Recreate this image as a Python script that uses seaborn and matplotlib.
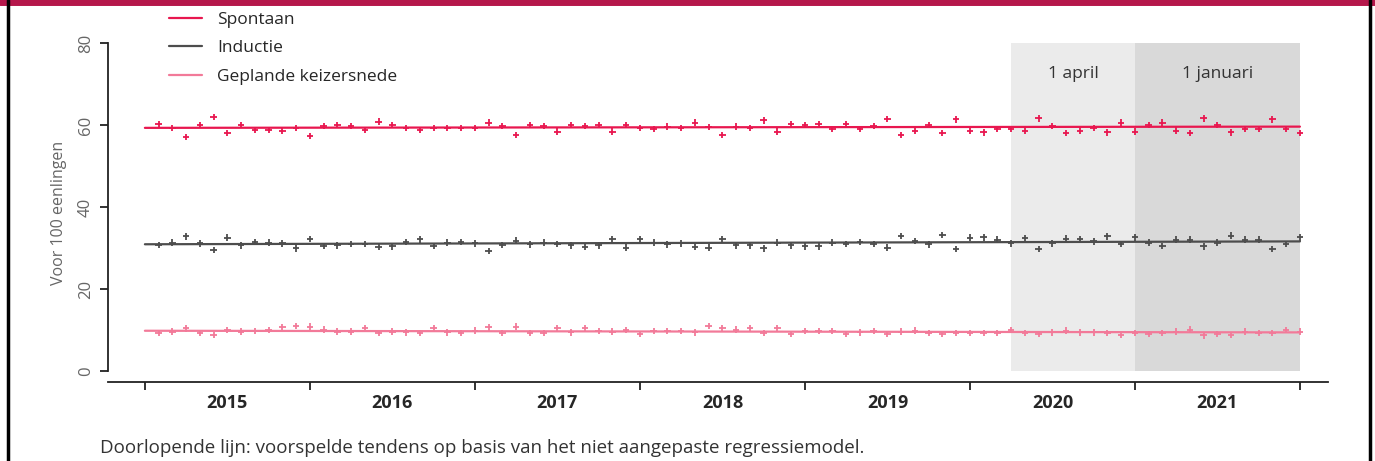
import numpy as np
import pandas as pd
import matplotlib.pyplot as plt
import seaborn as sns

# ===============================================
# DATA (maandelijks, jan 2015 - dec 2021)
# ===============================================

series_names = ["Spontaan", "Inductie", "Geplande keizersnede"]
years = [2015, 2016, 2017, 2018, 2019, 2020, 2021]

spontaan = [
    60.2, 59.3, 57.1, 60.0, 62.0, 58.0, 60.0, 58.8, 58.8, 58.5, 59.3, 57.3,
    59.8, 60.0, 59.8, 58.8, 60.8, 60.0, 59.3, 58.8, 59.3, 59.3, 59.3, 59.3,
    60.6, 59.8, 57.6, 60.0, 59.8, 58.4, 60.0, 59.8, 60.0, 58.4, 60.0, 59.3,
    59.0, 59.6, 59.3, 60.6, 59.5, 57.6, 59.6, 59.3, 61.1, 58.4, 60.3, 60.0,
    60.2, 59.0, 60.3, 59.0, 59.8, 61.5, 57.6, 58.6, 60.0, 58.0, 61.4, 58.5,
    58.2, 59.0, 59.0, 58.6, 61.6, 59.8, 58.0, 58.6, 59.3, 58.2, 60.6, 58.4,
    60.0, 60.6, 58.6, 58.0, 61.6, 60.0, 58.2, 59.0, 59.0, 61.4, 59.0, 58.0,
]
inductie = [
    30.7, 31.3, 32.8, 31.1, 29.5, 32.5, 30.6, 31.5, 31.3, 31.1, 29.9, 32.2,
    30.5, 30.6, 31.0, 31.0, 30.2, 30.4, 31.5, 32.1, 30.5, 31.3, 31.5, 31.1,
    29.3, 30.7, 31.8, 30.9, 31.3, 31.0, 30.6, 30.2, 30.6, 32.1, 30.1, 32.1,
    31.3, 30.9, 31.1, 30.2, 30.1, 32.1, 30.6, 30.6, 29.9, 31.3, 30.6, 30.4,
    30.4, 31.3, 31.0, 31.5, 31.0, 30.1, 32.9, 31.7, 30.9, 33.2, 29.7, 32.5,
    32.6, 32.0, 31.1, 32.4, 29.8, 31.1, 32.3, 32.2, 31.6, 32.8, 31.0, 32.6,
    31.3, 30.5, 32.0, 32.0, 30.4, 31.3, 33.0, 32.0, 32.0, 29.7, 31.0, 32.6,
]
geplande = [
    9.2, 9.6, 10.4, 9.2, 8.8, 10.0, 9.6, 9.7, 10.0, 10.7, 11.0, 10.8,
    10.1, 9.6, 9.6, 10.4, 9.2, 9.6, 9.4, 9.2, 10.4, 9.4, 9.2, 9.8,
    10.6, 9.3, 10.8, 9.3, 9.2, 10.4, 9.4, 10.4, 9.7, 9.6, 10.0, 9.0,
    9.7, 9.7, 9.7, 9.4, 11.0, 10.4, 10.1, 10.4, 9.2, 10.4, 9.0, 9.7,
    9.7, 9.7, 9.0, 9.4, 9.7, 9.0, 9.6, 9.8, 9.3, 9.0, 9.2, 9.2,
    9.3, 9.3, 10.0, 9.2, 9.0, 9.4, 9.8, 9.4, 9.4, 9.2, 8.8, 9.2,
    9.0, 9.3, 9.6, 10.1, 8.7, 9.0, 8.8, 9.6, 9.3, 9.3, 10.0, 9.6,
]

# voorspelde tendens: begin- en eindwaarde (2015.0 -> 2022.0)
trend_x = [2015.0, 2022.0]
trend_spontaan = [59.3, 59.6]
trend_inductie = [30.9, 31.6]
trend_geplande = [9.8, 9.4]

period_labels = ["1 april", "1 januari"]
period_start = [2020.25, 2021.0]
period_end = [2021.0, 2022.0]

colors = {"Spontaan": "#E8174F", "Inductie": "#4D4D4D", "Geplande keizersnede": "#F27A99"}
shade_colors = ["#EBEBEB", "#D9D9D9"]

# ===============================================
# DATAFRAMES
# ===============================================

x_months = [2015 + (i + 1) / 12 for i in range(len(spontaan))]
df = pd.DataFrame({
    "x": x_months * 3,
    "waarde": spontaan + inductie + geplande,
    "reeks": np.repeat(series_names, len(x_months)),
})
df_trend = pd.DataFrame({
    "x": trend_x * 3,
    "waarde": trend_spontaan + trend_inductie + trend_geplande,
    "reeks": np.repeat(series_names, 2),
})

# ===============================================
# FIGUUR
# ===============================================

sns.set_style("white")
plt.rcParams["font.family"] = ["Open Sans", "DejaVu Sans"]

fig = plt.figure(figsize=(13.75, 4.61), dpi=100)
ax = fig.add_axes([0.0785, 0.1714, 0.8873, 0.7353])

for s, e, c in zip(period_start, period_end, shade_colors):
    ax.fill_between([s, e], 0, 80, color=c, linewidth=0, zorder=0)
for s, e, lab in zip(period_start, period_end, period_labels):
    ax.text((s + e) / 2, 72.5, lab, ha="center", va="center", fontsize=12.5, color="#333333")

sns.lineplot(data=df_trend, x="x", y="waarde", hue="reeks", palette=colors,
             linewidth=1.6, ax=ax, legend=True, zorder=2)
sns.scatterplot(data=df, x="x", y="waarde", hue="reeks", palette=colors,
                marker="+", s=22, linewidth=1.3, ax=ax, legend=False, zorder=3)

ax.set_xlim(2014.776, 2022.17)
ax.set_ylim(-2.7, 80)

# assen in R-stijl
sns.despine(ax=ax)
ax.spines["left"].set_bounds(0, 80)
for side in ["left", "bottom"]:
    ax.spines[side].set_linewidth(1.3)
    ax.spines[side].set_color("#222222")

ax.set_yticks([0, 20, 40, 60, 80])
ax.set_yticklabels(["0", "20", "40", "60", "80"], rotation=90, va="center",
                   fontsize=12, color="#666666")
ax.set_xticks(list(range(2015, 2023)))
ax.set_xticklabels([])
ax.set_xticks([y + 0.5 for y in years], minor=True)
ax.set_xticklabels([str(y) for y in years], minor=True, fontweight="bold", fontsize=13)
ax.tick_params(axis="x", which="minor", bottom=True, length=0, pad=9)
ax.tick_params(axis="both", which="major", bottom=True, left=True, length=6, width=1.3,
               color="#222222", direction="out")
ax.tick_params(axis="y", pad=4)

ax.set_xlabel("")
ax.set_ylabel("Voor 100 eenlingen", fontsize=11.5, color="#666666", labelpad=8)

leg = ax.legend(loc="upper left", bbox_to_anchor=(0.044, 1.113), frameon=False,
                fontsize=12.5, handlelength=1.95, handletextpad=0.85, labelspacing=0.72,
                borderaxespad=0)
for line in leg.get_lines():
    line.set_linewidth(1.6)

fig.text(0.073, 0.018, "Doorlopende lijn: voorspelde tendens op basis van het niet aangepaste regressiemodel.",
         fontsize=13.5, color="#333333")

# kader zoals in het rapport
fig.add_artist(plt.Line2D([0, 1], [0.996, 0.996], color="#B5174B", linewidth=5, transform=fig.transFigure))
fig.add_artist(plt.Line2D([0.0058, 0.0058], [0, 1], color="black", linewidth=2.5, transform=fig.transFigure))
fig.add_artist(plt.Line2D([0.9965, 0.9965], [0, 1], color="black", linewidth=2.5, transform=fig.transFigure))

fig.savefig("out.png", dpi=100)
